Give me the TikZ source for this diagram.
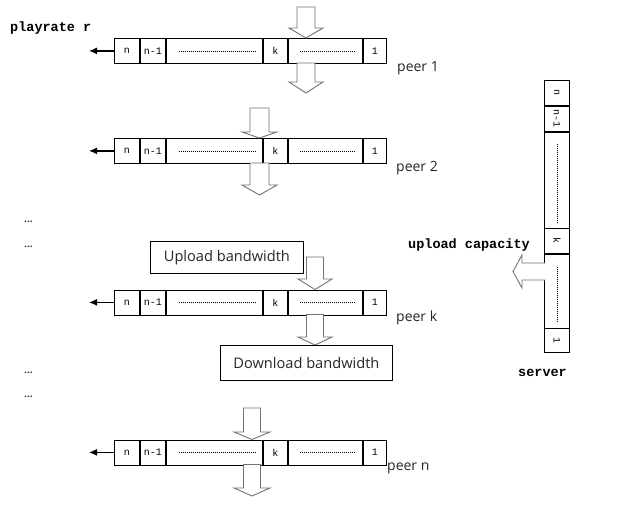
\documentclass[tikz,border=0pt]{standalone}
\usepackage{fontspec}
\setmainfont{Open Sans}
\newfontfamily\monof{Liberation Mono}
\usetikzlibrary{arrows.meta}
\newcommand\peerbuf[2]{%
  \node[cell, minimum width=25pt] (#1n) at (114,#2) {n};
  \node[cell, minimum width=25.5pt] (#1nm) at (#1n.north east) {n-1};
  \node[cell, minimum width=96pt] (#1da) at (#1nm.north east) {};
  \node[cell, minimum width=24pt] (#1k) at (#1da.north east) {k};
  \node[cell, minimum width=74.5pt] (#1db) at (#1k.north east) {};
  \node[cell, minimum width=23pt] (#1one) at (#1db.north east) {1};
  \draw[dots] ([xshift=12.5pt]#1da.west) -- ([xshift=-7.5pt]#1da.east);
  \draw[dots] ([xshift=12.5pt]#1db.west) -- ([xshift=-7pt]#1db.east);
  \coordinate (#1end) at ([xshift=-25pt]#1n.west);
  \draw[leftarr] (#1n.west) -- (#1end);
}
% center x, shaft half width, head half width, top, head start, tip
\newcommand\downarr[6]{%
  \draw[blk] ({#1-#2},#4) -- ({#1+#2},#4) -- ({#1+#2},#5) -- ({#1+#3},#5) -- (#1,#6)
    -- ({#1-#3},#5) -- ({#1-#2},#5) -- cycle;
}
\begin{document}
\begin{tikzpicture}[x=1pt,y=-1pt,
  cell/.style={draw, line width=0.8pt, inner sep=0pt, minimum height=25pt, anchor=north west,
    font=\monof\fontsize{10}{10}\selectfont},
  scell/.style={draw, line width=0.8pt, inner sep=0pt, minimum width=25pt, anchor=north west,
    font=\monof\fontsize{10}{10}\selectfont},
  dots/.style={line width=0.6pt, dash pattern=on 0.8pt off 1.2pt},
  blk/.style={draw=black!55, line width=0.9pt, fill=white},
  leftarr/.style={line width=1.2pt, -{Latex[length=8pt,width=7pt]}},
  lbl/.style={font=\fontsize{14}{14}\selectfont, anchor=west, inner sep=0pt, text=black!85},
  bmono/.style={font=\monof\bfseries\fontsize{13.5}{13.5}\selectfont, anchor=west, inner sep=0pt},
  bwbox/.style={draw, line width=0.8pt, inner sep=0pt, font=\fontsize{14.6}{14.6}\selectfont, text=black!85},
  ell/.style={font=\bfseries\fontsize{10}{10}\selectfont, anchor=base west, inner sep=0pt, text=black!80}]
\useasboundingbox (0,0) rectangle (619,515);
\fill[white] (0,0) rectangle (619,515);

% peers
\peerbuf{a}{38}
\peerbuf{b}{138}
\peerbuf{c}{289.5}
\peerbuf{d}{439.5}

% block arrows
\downarr{306}{9}{17}{7}{28}{38}
\downarr{306}{9}{17}{63}{82}{93}
\downarr{259.5}{9.5}{17.5}{108}{132}{138}
\downarr{259.5}{9.5}{17.5}{163}{185}{195}
\downarr{315}{8.5}{17}{257}{279}{289.5}
\downarr{315}{8.5}{17}{314.5}{337}{345}
\downarr{252}{8.5}{18}{408}{432}{439.5}
\downarr{252}{8.5}{18}{464.5}{488}{496}

% labels
\node[bmono] (playrate) at (10,28) {playrate r};
\node[lbl] (l1) at (397,68) {peer 1};
\node[lbl] (l2) at (396,168) {peer 2};
\node[lbl] (lk) at (396,318) {peer k};
\node[lbl] (ln) at (387,468) {peer n};
\node[ell] (e1) at (24,222) {...};
\node[ell] (e2) at (24,247) {...};
\node[ell] (e3) at (24,373) {...};
\node[ell] (e4) at (24,397) {...};

\node[bwbox, minimum width=153pt, minimum height=32pt, anchor=north west] (up) at (150,241) {Upload bandwidth};
\node[bwbox, minimum width=172pt, minimum height=35pt, anchor=north west] (down) at (220,345) {Download bandwidth};

% server
\node[scell, minimum height=25pt] (sn) at (544,80) {\rotatebox{-90}{n}};
\node[scell, minimum height=25.3pt] (snm) at (sn.south west) {\rotatebox{-90}{n-1}};
\node[scell, minimum height=95.7pt] (sda) at (snm.south west) {};
\node[scell, minimum height=24.3pt] (sk) at (sda.south west) {\rotatebox{-90}{k}};
\node[scell, minimum height=74pt] (sdb) at (sk.south west) {};
\node[scell, minimum height=24pt] (sone) at (sdb.south west) {\rotatebox{-90}{1}};
\draw[dots] ([yshift=-12pt]sda.north) -- ([yshift=6pt]sda.south);
\draw[dots] ([yshift=-13pt]sdb.north) -- ([yshift=6pt]sdb.south);
\draw[blk] (545,263) -- (522,263) -- (522,255) -- (513,271.5) -- (522,288) -- (522,280) -- (545,280);
\node[bmono] (cap) at (408,245) {upload capacity};
\node[bmono] (server) at (518,373) {server};
\end{tikzpicture}
\end{document}
